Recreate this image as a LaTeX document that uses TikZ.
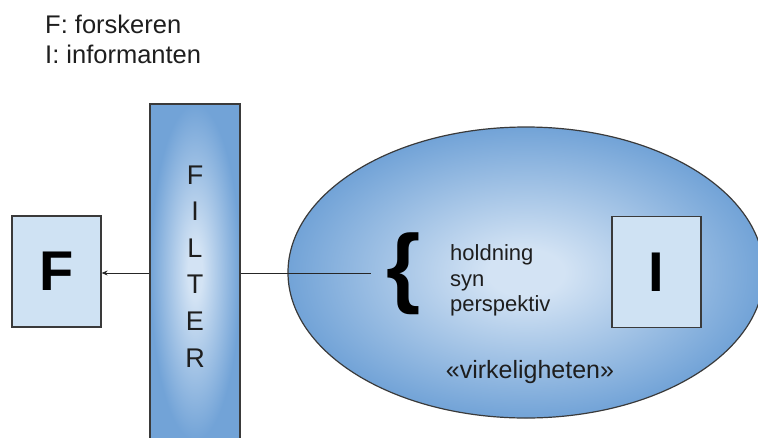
\documentclass[tikz,border=0pt]{standalone}
\usepackage{fontspec}
\setmainfont{Liberation Sans}
\usetikzlibrary{arrows.meta,shapes.geometric}
\definecolor{boxfill}{HTML}{CFE2F3}
\definecolor{edgeblue}{HTML}{72A3D7}
\definecolor{centerblue}{HTML}{D3E3F4}
\definecolor{linegray}{HTML}{3A3A3A}
\definecolor{textdark}{HTML}{1E1E1E}
\pgfdeclareradialshading{softglow}{\pgfpoint{0bp}{0bp}}{color(0bp)=(centerblue); color(4bp)=(centerblue); color(25bp)=(edgeblue); color(50bp)=(edgeblue)}
\begin{document}
\begin{tikzpicture}[x=1pt,y=-1pt,
  letterbox/.style={draw=linegray, line width=1.2pt, fill=boxfill, minimum width=89pt,
    minimum height=111pt, inner sep=0pt, text=black, font=\fontsize{56}{56}\selectfont\bfseries},
  filterbox/.style={draw=linegray, line width=1.2pt, shade, shading=softglow,
    minimum width=90pt, minimum height=336pt, inner sep=0pt},
  realm/.style={ellipse, draw=linegray, line width=1.2pt, shade, shading=softglow,
    minimum width=476pt, minimum height=291pt, inner sep=0pt},
  filterletter/.style={inner sep=0pt, text=textdark, font=\fontsize{27}{27}\selectfont},
  header/.style={inner sep=0pt, text=textdark, font=\fontsize{25.5}{30}\selectfont},
  bodytext/.style={inner sep=0pt, text=textdark, font=\fontsize{22}{25}\selectfont},
  bigtext/.style={inner sep=0pt, text=textdark, font=\fontsize{25}{25}\selectfont},
  connector/.style={draw=black!85, line width=1pt},
]
\useasboundingbox (0,0) rectangle (758,437);

% header
\node[header, anchor=base west] (h1) at (45,33) {F: forskeren};
\node[header, anchor=base west] (h2) at (45,63) {I: informanten};

% filter
\node[filterbox] (filter) at (195,272) {};
\foreach \l [count=\i from 0] in {F,I,L,T,E,R}
  \node[filterletter, anchor=base] (fl\i) at (195,{184+36.6*\i}) {\l};

% F box
\node[letterbox] (F) at (56.5,271.5) {F};

% reality ellipse
\node[realm] (real) at (526,272.5) {};

% I box
\node[letterbox] (I) at (656.5,272) {I};

% brace and attributes
\node[inner sep=0pt, text=black, font=\fontsize{88}{88}\selectfont\bfseries] (brace) at (404,273.5) {\{};
\node[bodytext, anchor=base west] (a1) at (450,260) {holdning};
\node[bodytext, anchor=base west] (a2) at (450,286) {syn};
\node[bodytext, anchor=base west] (a3) at (450,311) {perspektiv};
\node[bigtext, anchor=base] (virk) at (530,378) {«virkeligheten»};

% connectors
\coordinate (lineend) at (371,273);
\draw[connector, -{Stealth[length=6pt,width=5pt]}] (filter.west |- lineend) -- (F.east |- lineend);
\draw[connector] (filter.east |- lineend) -- (lineend);
\end{tikzpicture}
\end{document}
